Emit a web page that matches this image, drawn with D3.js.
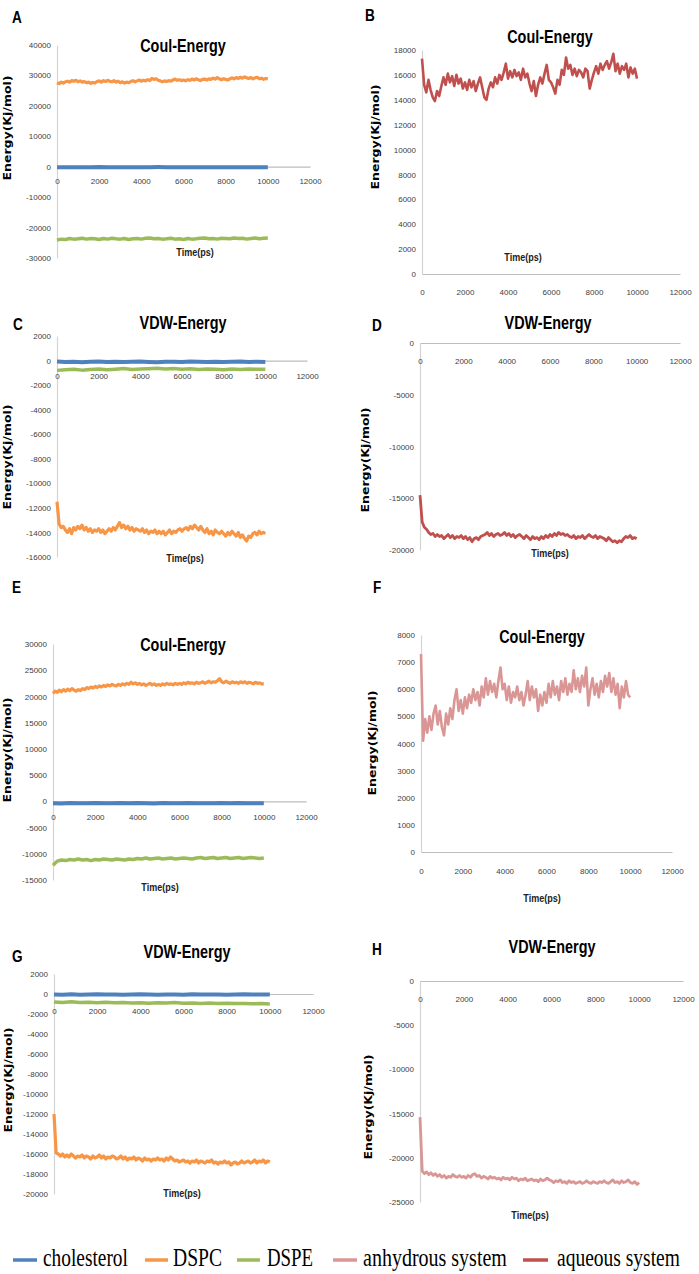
<!DOCTYPE html>
<html>
<head>
<meta charset="utf-8">
<script src="https://cdn.jsdelivr.net/npm/d3@7"></script>
<style>
  body { margin: 0; background: #fff; }
  svg { display: block; }
  .tick text { font-family: "Liberation Sans", Arial, sans-serif; font-size: 8px; fill: #404040; }
  .panel-title { font-family: "Liberation Sans", Arial, sans-serif; font-weight: bold; font-size: 18px; fill: #000; }
  .panel-letter { font-family: "Liberation Sans", Arial, sans-serif; font-weight: bold; font-size: 16px; fill: #000; }
  .time-label { font-family: "Liberation Sans", Arial, sans-serif; font-weight: bold; font-size: 11px; fill: #222; }
  .energy-label { font-family: "DejaVu Sans", Verdana, sans-serif; font-weight: bold; font-size: 11px; fill: #000; }
  .legend-text { font-family: "Liberation Serif", "Times New Roman", serif; font-size: 26px; fill: #000; }
</style>
</head>
<body>
<div id="chart"></div>
<script>
//time axis ticks (ps)
var timeTicks = [0, 2000, 4000, 6000, 8000, 10000, 12000];

//series names and colours for the legend
var seriesNames = ["cholesterol", "DSPC", "DSPE", "anhydrous system", "aqueous system"];
var seriesColors = ["#4f81bd", "#f79646", "#9bbb59", "#d99694", "#c0504d"];

//Each series is spread evenly over 0..10000 ps
//Panel A - Coul-Energy
var aCholesterol = [-150,-180,-140,-170,-160,-130,-170,-150,-160,-140,-180,-150,-130,-160,-170,-150,-140,-160,-150,-170,-140,-160,-150,-170,-150,-160];
var aDSPC = [27600,27300,27800,27500,27900,28100,27800,28300,28100,28400,
  27900,28200,27800,28000,27600,27800,27400,27700,27500,28000,
  28200,27800,28300,28000,28400,28100,27900,28300,27800,28100,
  27600,27900,27500,27800,27600,28000,28300,27900,28200,28500,
  28100,28400,28200,28600,28300,29000,28700,28900,28400,28200,
  27900,28200,28000,28300,28100,28500,28800,28400,28600,28300,
  28500,28200,28600,28400,28800,28500,28900,28600,28300,28700,
  28800,28500,28900,28700,29100,28800,29300,28900,28600,28900,
  28700,28500,28900,29200,28900,29300,29000,29400,29100,29500,
  29200,29000,29300,28900,29200,29400,28900,29100,28700,29000,
  28800];
var aDSPE = [-24100,-23800,-23900,-23600,-23800,-23700,-23500,-23800,-23600,-23700,
  -23900,-23600,-23800,-23500,-23700,-23800,-23600,-23900,-23700,-23600,
  -23800,-23500,-23400,-23700,-23600,-23800,-23700,-23500,-23800,-23700,
  -23900,-23600,-23800,-23700,-23500,-23400,-23700,-23600,-23800,-23500,
  -23600,-23700,-23400,-23600,-23500,-23800,-23600,-23400,-23700,-23500,-23400];

//Panel B - Coul-Energy aqueous
var bAqueous = [17300,15200,14600,15600,14800,14200,13900,14700,14300,15100,
  15800,15200,16100,15400,15900,15100,16000,15300,15700,14900,
  15400,14800,15600,15000,15500,14700,15300,15800,15000,14200,
  14000,14900,15400,15000,15800,15300,16000,15600,16200,16900,
  15700,16300,15800,16400,15900,16200,15600,16500,15800,16100,
  15300,14700,15500,14300,15200,15800,15300,16100,16800,15600,
  15400,15000,14500,15600,15200,16400,16000,17400,16500,16800,
  16000,16500,15900,16400,16200,15800,16500,16300,14900,15600,
  16200,16700,16100,16900,16400,16800,17100,16500,17000,17700,
  16300,16900,16100,16700,16400,16900,15800,16600,16100,16500,
  15700];

//Panel C - VDW-Energy
var cCholesterol = [-80,-120,-90,-130,-100,-70,-110,-90,-120,-100,-80,-110,-130,-90,-100,-120,-80,-100,-110,-90,-120,-100,-80,-110,-100,-120];
var cDSPE = [-800,-750,-700,-780,-720,-680,-740,-700,-650,-720,-690,-660,-620,-680,-640,-700,-660,-720,-680,-700,-740,-690,-720,-680,-710,-700];
var cDSPC = [-11500,-13300,-13600,-13500,-13800,-14000,-13700,-14100,-13600,-13800,
  -13500,-13700,-13400,-13800,-13600,-13900,-13700,-14000,-13800,-13900,
  -13700,-14000,-13800,-14100,-13900,-13700,-13900,-13600,-13800,-13500,
  -13200,-13600,-13400,-13700,-13500,-13800,-13600,-13900,-13700,-13800,
  -13900,-13700,-14000,-13800,-14100,-13900,-14000,-13800,-14100,-13900,
  -14100,-13900,-14200,-14000,-13800,-14100,-13900,-14000,-13800,-13700,
  -13900,-13700,-13600,-13800,-13500,-13700,-13400,-13600,-13800,-13500,
  -13800,-14000,-13700,-14100,-13900,-14200,-13800,-14000,-14100,-13900,
  -14100,-14300,-14000,-14200,-13900,-14100,-14300,-14000,-14400,-14200,
  -14500,-14700,-14300,-14400,-14100,-14000,-14200,-13900,-14100,-14000,
  -14100];

//Panel D - VDW-Energy aqueous
var dAqueous = [-14700,-17300,-17800,-18000,-18300,-18500,-18400,-18700,-18500,-18700,
  -18600,-18900,-18700,-18500,-18800,-18600,-18900,-18700,-18800,-18600,
  -18900,-18700,-19000,-18800,-19200,-18900,-18800,-19000,-18700,-18600,
  -18500,-18300,-18600,-18400,-18700,-18500,-18400,-18600,-18500,-18300,
  -18600,-18400,-18700,-18500,-18800,-18600,-18500,-18700,-18900,-18600,
  -18800,-19000,-18700,-18900,-18800,-19000,-18700,-18900,-18600,-18800,
  -18500,-18700,-18400,-18600,-18300,-18500,-18400,-18600,-18500,-18700,
  -18800,-18600,-18900,-18700,-18800,-18600,-18900,-18700,-18500,-18700,
  -18800,-18600,-18900,-18700,-18800,-18900,-19100,-18800,-19000,-19200,
  -19100,-19300,-19100,-19200,-18900,-18700,-18800,-18600,-18900,-18800,
  -18900];

//Panel E - Coul-Energy
var eCholesterol = [-350,-390,-330,-370,-360,-320,-380,-350,-340,-370,-330,-360,-390,-340,-350,-370,-320,-360,-350,-380,-340,-360,-330,-370,-350,-360];
var eDSPC = [20600,21000,20800,21200,20900,21300,21000,21400,21100,21500,
  21200,21000,21300,21100,21500,21300,21700,21500,21800,21600,
  21900,21700,22000,21800,22100,21900,22200,22000,22300,22100,
  22000,22300,22100,22400,22200,22500,22300,22700,22400,22600,
  22300,22500,22200,22400,22100,22300,22500,22200,22400,22100,
  22300,22100,22400,22200,22500,22300,22400,22200,22500,22300,
  22500,22300,22600,22400,22700,22500,22600,22400,22700,22500,
  22600,22800,22500,22700,22900,22600,22800,22700,23000,23400,
  22800,22600,22900,22700,22500,22800,22600,22700,22500,22800,
  22600,22800,22500,22700,22600,22400,22700,22500,22600,22400,
  22400];
var eDSPE = [-12200,-11400,-11200,-11300,-11100,-11200,-11000,-11200,-11100,-11300,
  -11100,-11200,-11000,-11100,-11200,-11000,-11100,-11200,-11000,-11100,
  -10900,-11000,-10800,-11000,-10900,-10800,-11000,-10900,-10800,-11000,
  -10900,-10800,-10900,-11000,-10800,-10700,-10900,-10800,-10700,-10900,
  -10800,-10700,-10900,-10800,-10700,-10900,-10800,-10700,-10800,-10900,-10800];

//Panel F - Coul-Energy anhydrous
var fAnhydrous = [7300,4100,4900,4400,5000,4500,5100,5400,4700,5200,
  4600,4300,5100,4700,5300,4900,5600,6000,5200,5600,
  5100,5700,5300,5800,5500,6000,5600,5900,5400,6100,
  5700,6400,5800,6300,5900,6200,5700,6300,6800,6000,
  6200,5600,6100,5500,5900,5700,6100,5600,5900,5400,
  5800,6300,5600,6100,5700,6000,5200,5800,5400,5900,
  5500,6200,5700,6300,5800,6100,5600,6300,5900,6400,
  5800,6200,5900,6700,6000,6400,5900,6500,6100,6800,
  5400,6000,6400,5800,6200,5700,6300,5900,6500,6100,
  6600,5900,6400,5800,6200,5300,6100,5700,6300,5800,
  5700];

//Panel G - VDW-Energy
var gCholesterol = [-40,-80,-30,-70,-50,-20,-60,-40,-70,-50,-30,-60,-80,-40,-50,-70,-30,-50,-60,-40,-70,-50,-30,-60,-50,-60];
var gDSPE = [-800,-850,-780,-840,-820,-870,-830,-880,-850,-900,-870,-920,-880,-900,-860,-920,-890,-940,-910,-950,-920,-960,-940,-980,-950,-990];
var gDSPC = [-12000,-15900,-16000,-16200,-16000,-16300,-16100,-16300,-16000,-16200,
  -16400,-16200,-16300,-16100,-16400,-16200,-16300,-16500,-16200,-16400,
  -16300,-16100,-16400,-16200,-16500,-16300,-16400,-16200,-16300,-16500,
  -16400,-16200,-16500,-16300,-16600,-16400,-16500,-16300,-16600,-16400,
  -16500,-16700,-16400,-16600,-16500,-16700,-16500,-16600,-16400,-16600,
  -16500,-16700,-16400,-16600,-16300,-16500,-16700,-16600,-16800,-16700,
  -16600,-16800,-16700,-16900,-16700,-16800,-16600,-16900,-16700,-16800,
  -16900,-16700,-16800,-16600,-16900,-16800,-17000,-16800,-16900,-16700,
  -16900,-16800,-17100,-16900,-16800,-17000,-16900,-16700,-16900,-16800,
  -16700,-16900,-16800,-16600,-16900,-16700,-16800,-16600,-16900,-16700,
  -16800];

//Panel H - VDW-Energy anhydrous
var hAnhydrous = [-15400,-21500,-21800,-21600,-21900,-21700,-22000,-21800,-22100,-21900,
  -22200,-22000,-22300,-22100,-22200,-21900,-22100,-22200,-22000,-22200,
  -22100,-22300,-22000,-22200,-21900,-21800,-22100,-22000,-22300,-22100,
  -22200,-22400,-22100,-22300,-22200,-22400,-22300,-22500,-22200,-22400,
  -22300,-22500,-22200,-22400,-22300,-22600,-22400,-22500,-22300,-22600,
  -22500,-22400,-22600,-22500,-22700,-22400,-22600,-22500,-22300,-22500,
  -22600,-22800,-22600,-22700,-22500,-22800,-22700,-22900,-22600,-22800,
  -22700,-22900,-22800,-22700,-22900,-22800,-22600,-22800,-22900,-22700,
  -22800,-22900,-22700,-22800,-22600,-22800,-22900,-22700,-22500,-22800,
  -22700,-22900,-22600,-22800,-22700,-22500,-22800,-22900,-22700,-23000,
  -22800];

//y ticks per panel
var aTicks = [-30000,-20000,-10000,0,10000,20000,30000,40000];
var bTicks = [0,2000,4000,6000,8000,10000,12000,14000,16000,18000];
var cTicks = [-16000,-14000,-12000,-10000,-8000,-6000,-4000,-2000,0,2000];
var dTicks = [-20000,-15000,-10000,-5000,0];
var eTicks = [-15000,-10000,-5000,0,5000,10000,15000,20000,25000,30000];
var fTicks = [0,1000,2000,3000,4000,5000,6000,7000,8000];
var gTicks = [-20000,-18000,-16000,-14000,-12000,-10000,-8000,-6000,-4000,-2000,0,2000];
var hTicks = [-25000,-20000,-15000,-10000,-5000,0];

//layout of each panel (pixel positions measured on the picture)
var panels = [
  {letter:"A", title:"Coul-Energy", ticks:aTicks, x0:57, x1:310, yTop:45, yBot:258, xLab:12,
   letterPos:[12,23], titlePos:[183,52], energyPos:[7,128], timePos:[195,256],
   series:[{v:aCholesterol,c:0,w:4},{v:aDSPC,c:1,w:3.2},{v:aDSPE,c:2,w:3.5}]},
  {letter:"B", title:"Coul-Energy", ticks:bTicks, x0:422, x1:680, yTop:50, yBot:274, xLab:15,
   letterPos:[365,21], titlePos:[550,43], energyPos:[375,137], timePos:[523,261],
   series:[{v:bAqueous,c:4,w:2.6}]},
  {letter:"C", title:"VDW-Energy", ticks:cTicks, x0:57, x1:307, yTop:336, yBot:557, xLab:13,
   letterPos:[13,330], titlePos:[183,329], energyPos:[7,457], timePos:[185,562],
   series:[{v:cCholesterol,c:0,w:4},{v:cDSPE,c:2,w:3.5},{v:cDSPC,c:1,w:3.2}]},
  {letter:"D", title:"VDW-Energy", ticks:dTicks, x0:420, x1:680, yTop:343, yBot:550, xLab:15,
   letterPos:[372,331], titlePos:[548,329], energyPos:[365,460], timePos:[550,557],
   series:[{v:dAqueous,c:4,w:2.8}]},
  {letter:"E", title:"Coul-Energy", ticks:eTicks, x0:53, x1:306, yTop:644, yBot:880, xLab:13,
   letterPos:[12,593], titlePos:[183,651], energyPos:[7,750], timePos:[160,891],
   series:[{v:eCholesterol,c:0,w:4},{v:eDSPC,c:1,w:3.2},{v:eDSPE,c:2,w:3.5}]},
  {letter:"F", title:"Coul-Energy", ticks:fTicks, x0:421, x1:672, yTop:635, yBot:852, xLab:16,
   letterPos:[373,593], titlePos:[542,643], energyPos:[372,743], timePos:[542,902],
   series:[{v:fAnhydrous,c:3,w:2.6}]},
  {letter:"G", title:"VDW-Energy", ticks:gTicks, x0:54, x1:313, yTop:974, yBot:1194, xLab:14,
   letterPos:[12,962], titlePos:[187,958], energyPos:[8,1080], timePos:[182,1197],
   series:[{v:gCholesterol,c:0,w:4},{v:gDSPE,c:2,w:3.5},{v:gDSPC,c:1,w:3.2}]},
  {letter:"H", title:"VDW-Energy", ticks:hTicks, x0:420, x1:683, yTop:981, yBot:1202, xLab:15,
   letterPos:[372,955], titlePos:[552,953], energyPos:[368,1107], timePos:[530,1219],
   series:[{v:hAnhydrous,c:3,w:2.8}]}
];

//No narrow fonts installed so squeeze the text to look like Calibri
function narrow(sel, factor) {
  sel.each(function () {
    var len = this.getComputedTextLength();
    d3.select(this)
      .attr("textLength", len * factor)
      .attr("lengthAdjust", "spacingAndGlyphs");
  });
}
//plain hyphen for negatives like Excel does
var tickFmt = function (d) { return String(d); };

var svg = d3.select("#chart").append("svg")
  .attr("width", 699)
  .attr("height", 1274);

panels.forEach(function (p) {
  var g = svg.append("g");
  var yMin = d3.min(p.ticks), yMax = d3.max(p.ticks);
  var x = d3.scaleLinear().domain([0, 12000]).range([p.x0, p.x1]);
  var y = d3.scaleLinear().domain([yMin, yMax]).range([p.yBot, p.yTop]);

  //y axis (light grey line, no tick marks)
  var yAxis = g.append("g")
    .attr("transform", "translate(" + p.x0 + ",0)")
    .call(d3.axisLeft(y).tickValues(p.ticks).tickSize(0).tickPadding(6).tickFormat(tickFmt));
  yAxis.select(".domain").attr("stroke", "#d4d4d4").attr("stroke-width", 1.2);

  //x axis sits at zero energy
  var xAxis = g.append("g")
    .attr("transform", "translate(0," + y(0) + ")")
    .call(d3.axisBottom(x).tickValues(timeTicks).tickSize(0).tickPadding(p.xLab).tickFormat(tickFmt));
  xAxis.select(".domain").attr("stroke", "#bdbdbd").attr("stroke-width", 1.2);

  //lines
  var line = d3.line()
    .x(function (d) { return x(d.t); })
    .y(function (d) { return y(d.v); });
  p.series.forEach(function (s) {
    var n = s.v.length;
    var pts = s.v.map(function (v, i) { return {t: i * 10000 / (n - 1), v: v}; });
    g.append("path")
      .datum(pts)
      .attr("fill", "none")
      .attr("stroke", seriesColors[s.c])
      .attr("stroke-width", s.w)
      .attr("stroke-linejoin", "round")
      .attr("d", line);
  });

  //texts
  narrow(g.append("text").attr("class", "panel-letter")
    .attr("x", p.letterPos[0]).attr("y", p.letterPos[1]).text(p.letter), 0.85);
  narrow(g.append("text").attr("class", "panel-title")
    .attr("x", p.titlePos[0]).attr("y", p.titlePos[1])
    .attr("text-anchor", "middle").text(p.title), 0.8);
  g.append("text").attr("class", "energy-label")
    .attr("transform", "translate(" + p.energyPos[0] + "," + p.energyPos[1] + ")rotate(-90)")
    .attr("text-anchor", "middle").attr("dy", "0.35em")
    .attr("textLength", 105).attr("lengthAdjust", "spacingAndGlyphs")
    .text("Energy(Kj/mol)");
  narrow(g.append("text").attr("class", "time-label")
    .attr("x", p.timePos[0]).attr("y", p.timePos[1])
    .attr("text-anchor", "middle").text("Time(ps)"), 0.82);
});

//legend at bottom, text squeezed horizontally to the widths in the picture
var legendItems = [
  {x1:13, x2:37, tx:43, tw:85},
  {x1:145, x2:168, tx:173, tw:49},
  {x1:237, x2:260, tx:267, tw:46},
  {x1:333, x2:357, tx:363, tw:144},
  {x1:523, x2:548, tx:557, tw:123}
];
var legend = svg.append("g");
legendItems.forEach(function (item, i) {
  legend.append("line")
    .attr("x1", item.x1).attr("x2", item.x2)
    .attr("y1", 1260).attr("y2", 1260)
    .attr("stroke", seriesColors[i]).attr("stroke-width", 3.5);
  var t = legend.append("text").attr("class", "legend-text")
    .text(seriesNames[i]);
  var sx = item.tw / t.node().getComputedTextLength();
  t.attr("transform", "translate(" + item.tx + ",1266)scale(" + sx + ",1)");
});
</script>
</body>
</html>
